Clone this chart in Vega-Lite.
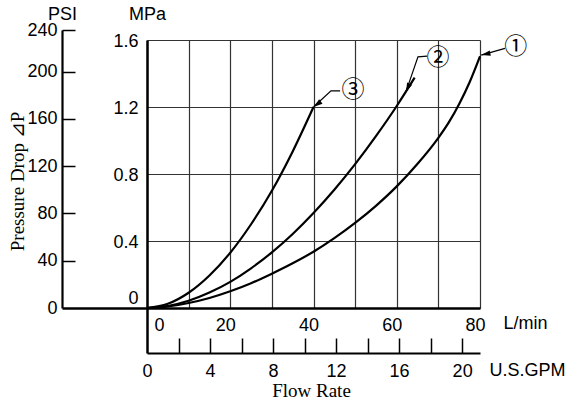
{
  "$schema": "https://vega.github.io/schema/vega-lite/v6.json",
  "width": 333,
  "height": 268,
  "autosize": {"type": "none"},
  "padding": {"left": 147, "top": 40, "right": 87, "bottom": 95},
  "background": "#ffffff",
  "config": {
    "view": {"stroke": null},
    "axis": {
      "labelFont": "Liberation Sans",
      "labelFontSize": 18,
      "labelColor": "#000",
      "titleFont": "Liberation Sans",
      "titleFontSize": 18,
      "titleFontWeight": "normal",
      "titleColor": "#000",
      "domainColor": "#000",
      "tickColor": "#000",
      "labelOverlap": false,
      "labelFlush": false,
      "labelBound": false
    }
  },
  "datasets": {
    "curves": [
      {"curve": 1, "flow": 0, "mpa": 0},
      {"curve": 1, "flow": 5, "mpa": 0.01},
      {"curve": 1, "flow": 10, "mpa": 0.03},
      {"curve": 1, "flow": 15, "mpa": 0.06},
      {"curve": 1, "flow": 20, "mpa": 0.1},
      {"curve": 1, "flow": 25, "mpa": 0.148},
      {"curve": 1, "flow": 30, "mpa": 0.205},
      {"curve": 1, "flow": 35, "mpa": 0.267},
      {"curve": 1, "flow": 40, "mpa": 0.336},
      {"curve": 1, "flow": 45, "mpa": 0.417},
      {"curve": 1, "flow": 50, "mpa": 0.508},
      {"curve": 1, "flow": 55, "mpa": 0.61},
      {"curve": 1, "flow": 60, "mpa": 0.726},
      {"curve": 1, "flow": 65, "mpa": 0.861},
      {"curve": 1, "flow": 70, "mpa": 1.016},
      {"curve": 1, "flow": 72.5, "mpa": 1.108},
      {"curve": 1, "flow": 75, "mpa": 1.218},
      {"curve": 1, "flow": 77.5, "mpa": 1.348},
      {"curve": 1, "flow": 80, "mpa": 1.503},
      {"curve": 2, "flow": 0, "mpa": 0},
      {"curve": 2, "flow": 5, "mpa": 0.012},
      {"curve": 2, "flow": 10, "mpa": 0.043},
      {"curve": 2, "flow": 15, "mpa": 0.092},
      {"curve": 2, "flow": 20, "mpa": 0.156},
      {"curve": 2, "flow": 25, "mpa": 0.237},
      {"curve": 2, "flow": 30, "mpa": 0.332},
      {"curve": 2, "flow": 35, "mpa": 0.442},
      {"curve": 2, "flow": 40, "mpa": 0.567},
      {"curve": 2, "flow": 45, "mpa": 0.706},
      {"curve": 2, "flow": 50, "mpa": 0.859},
      {"curve": 2, "flow": 55, "mpa": 1.026},
      {"curve": 2, "flow": 60, "mpa": 1.206},
      {"curve": 2, "flow": 64.3, "mpa": 1.375},
      {"curve": 3, "flow": 0, "mpa": 0},
      {"curve": 3, "flow": 5, "mpa": 0.025},
      {"curve": 3, "flow": 10, "mpa": 0.091},
      {"curve": 3, "flow": 15, "mpa": 0.194},
      {"curve": 3, "flow": 20, "mpa": 0.33},
      {"curve": 3, "flow": 25, "mpa": 0.5},
      {"curve": 3, "flow": 30, "mpa": 0.7},
      {"curve": 3, "flow": 35, "mpa": 0.935},
      {"curve": 3, "flow": 40, "mpa": 1.2}
    ],
    "leaders": [
      {"curve": 1, "step": 0, "flow": 80.3, "mpa": 1.51},
      {"curve": 1, "step": 1, "flow": 86, "mpa": 1.55},
      {"curve": 2, "step": 0, "flow": 62.2, "mpa": 1.29},
      {"curve": 2, "step": 1, "flow": 65.1, "mpa": 1.499},
      {"curve": 2, "step": 2, "flow": 67.3, "mpa": 1.504},
      {"curve": 3, "step": 0, "flow": 40, "mpa": 1.2},
      {"curve": 3, "step": 1, "flow": 44.2, "mpa": 1.296},
      {"curve": 3, "step": 2, "flow": 46.4, "mpa": 1.296}
    ],
    "arrows": [
      {"curve": 1, "flow": 80.3, "mpa": 1.51},
      {"curve": 2, "flow": 62.2, "mpa": 1.29},
      {"curve": 3, "flow": 40, "mpa": 1.2}
    ],
    "tags": [
      {"curve": 1, "label": "①", "flow": 88.6, "mpa": 1.558},
      {"curve": 2, "label": "②", "flow": 69.9, "mpa": 1.49},
      {"curve": 3, "label": "③", "flow": 49.5, "mpa": 1.3}
    ]
  },
  "layer": [
    {
      "layer": [
        {
          "data": {"name": "curves"},
          "mark": {"type": "line", "color": "#000", "strokeWidth": 2.2, "interpolate": "monotone", "clip": false},
          "encoding": {
            "x": {
              "field": "flow", "type": "quantitative",
              "scale": {"domain": [0, 80], "nice": false, "zero": true},
              "axis": {
                "orient": "bottom",
                "values": [0, 10, 20, 30, 40, 50, 60, 70, 80],
                "grid": true, "gridColor": "#333", "gridWidth": 1.2,
                "ticks": false, "tickSize": 0,
                "domainWidth": 2.5,
                "labelPadding": 8,
                "labelExpr": "datum.value % 20 == 0 ? datum.label : ''",
                "labelOffset": {"condition": {"test": "datum.value == 0", "value": 12}, "value": -5},
                "title": "L/min", "titleX": 378, "titleY": 15,
                "titleAlign": "center", "titleBaseline": "middle", "titleAngle": 0
              }
            },
            "y": {
              "field": "mpa", "type": "quantitative",
              "scale": {"domain": [0, 1.6], "nice": false, "zero": true},
              "axis": {
                "orient": "left",
                "values": [0, 0.2, 0.4, 0.6, 0.8, 1, 1.2, 1.4, 1.6],
                "grid": true, "gridColor": "#333", "gridWidth": 1.2,
                "ticks": false, "tickSize": 0,
                "domainWidth": 2.5,
                "labelPadding": 9,
                "labelExpr": "datum.value == 0 ? '0' : (round(datum.value * 10) % 4 == 0 ? format(datum.value, '.1f') : '')",
                "labelOffset": {"condition": {"test": "datum.value == 0", "value": -10}, "value": 1},
                "title": "MPa", "titleX": 0, "titleY": -26,
                "titleAlign": "center", "titleBaseline": "middle", "titleAngle": 0
              }
            },
            "detail": {"field": "curve", "type": "nominal"}
          }
        },
        {
          "data": {"name": "leaders"},
          "mark": {"type": "line", "color": "#000", "strokeWidth": 1.2, "clip": false},
          "encoding": {
            "x": {"field": "flow", "type": "quantitative"},
            "y": {"field": "mpa", "type": "quantitative"},
            "detail": {"field": "curve", "type": "nominal"},
            "order": {"field": "step", "type": "quantitative"}
          }
        },
        {
          "data": {"name": "arrows"},
          "mark": {"type": "point", "shape": "M0,0L-0.3,1L0.3,1Z", "filled": true, "color": "#000", "opacity": 1, "size": 340, "clip": false},
          "encoding": {
            "x": {"field": "flow", "type": "quantitative"},
            "y": {"field": "mpa", "type": "quantitative"},
            "angle": {"field": "curve", "type": "quantitative", "scale": {"type": "linear", "domain": [1, 2, 3], "range": [258, 204, 233]}, "legend": null}
          }
        },
        {
          "data": {"name": "tags"},
          "mark": {"type": "text", "font": "Noto Sans CJK JP", "fontSize": 23, "color": "#000", "align": "center", "baseline": "middle", "clip": false},
          "encoding": {
            "x": {"field": "flow", "type": "quantitative"},
            "y": {"field": "mpa", "type": "quantitative"},
            "text": {"field": "label"}
          }
        }
      ]
    },
    {
      "data": {"values": [{"psi": 0}, {"psi": 240}]},
      "mark": {"type": "point", "opacity": 0},
      "encoding": {
        "y": {
          "field": "psi", "type": "quantitative",
          "scale": {"domain": [0, 200, 240], "range": [268, 31.7, -10], "nice": false, "zero": false},
          "axis": {
            "orient": "left", "offset": 85,
            "values": [0, 40, 80, 120, 160, 200, 240],
            "grid": false,
            "domainWidth": 2.2,
            "tickSize": {"condition": {"test": "datum.value == 0", "value": -85}, "value": -13},
            "tickWidth": {"condition": {"test": "datum.value == 0", "value": 2.5}, "value": 1.5},
            "labelPadding": {"condition": {"test": "datum.value == 0", "value": 90}, "value": 18},
            "title": "PSI", "titleX": 0, "titleY": -26,
            "titleAlign": "center", "titleBaseline": "middle", "titleAngle": 0
          }
        }
      }
    },
    {
      "data": {"values": [{"gpm": 0}, {"gpm": 20}]},
      "mark": {"type": "point", "opacity": 0},
      "encoding": {
        "x": {
          "field": "gpm", "type": "quantitative",
          "scale": {"domain": [0, 21.134], "nice": false, "zero": true},
          "axis": {
            "orient": "bottom", "offset": 45,
            "values": [0, 2, 4, 6, 8, 10, 12, 14, 16, 18, 20],
            "grid": false,
            "domainWidth": 2.2,
            "tickSize": {"condition": {"test": "datum.value == 0", "value": -45}, "value": -15},
            "tickWidth": {"condition": {"test": "datum.value == 0", "value": 2.5}, "value": 1.5},
            "labelPadding": {"condition": {"test": "datum.value == 0", "value": 54}, "value": 24},
            "labelExpr": "datum.value % 4 == 0 ? datum.label : ''",
            "title": "U.S.GPM", "titleX": 380, "titleY": 17,
            "titleAlign": "center", "titleBaseline": "middle", "titleAngle": 0
          }
        }
      }
    },
    {
      "data": {"values": [{"v": 0}]},
      "mark": {"type": "point", "opacity": 0},
      "encoding": {
        "x": {
          "field": "v", "type": "quantitative",
          "axis": {
            "orient": "bottom", "domain": false, "ticks": false, "labels": false, "grid": false,
            "title": "Flow Rate", "titleX": 164, "titleY": 82,
            "titleFont": "Liberation Serif", "titleFontSize": 19,
            "titleAlign": "center", "titleBaseline": "middle", "titleAngle": 0
          }
        },
        "y": {
          "field": "v", "type": "quantitative",
          "axis": {
            "orient": "left", "domain": false, "ticks": false, "labels": false, "grid": false,
            "title": "Pressure Drop ⊿P", "titleX": -130, "titleY": 141,
            "titleFont": "Liberation Serif", "titleFontSize": 19,
            "titleAlign": "center", "titleBaseline": "middle", "titleAngle": -90
          }
        }
      }
    }
  ],
  "resolve": {"scale": {"x": "independent", "y": "independent"}}
}
